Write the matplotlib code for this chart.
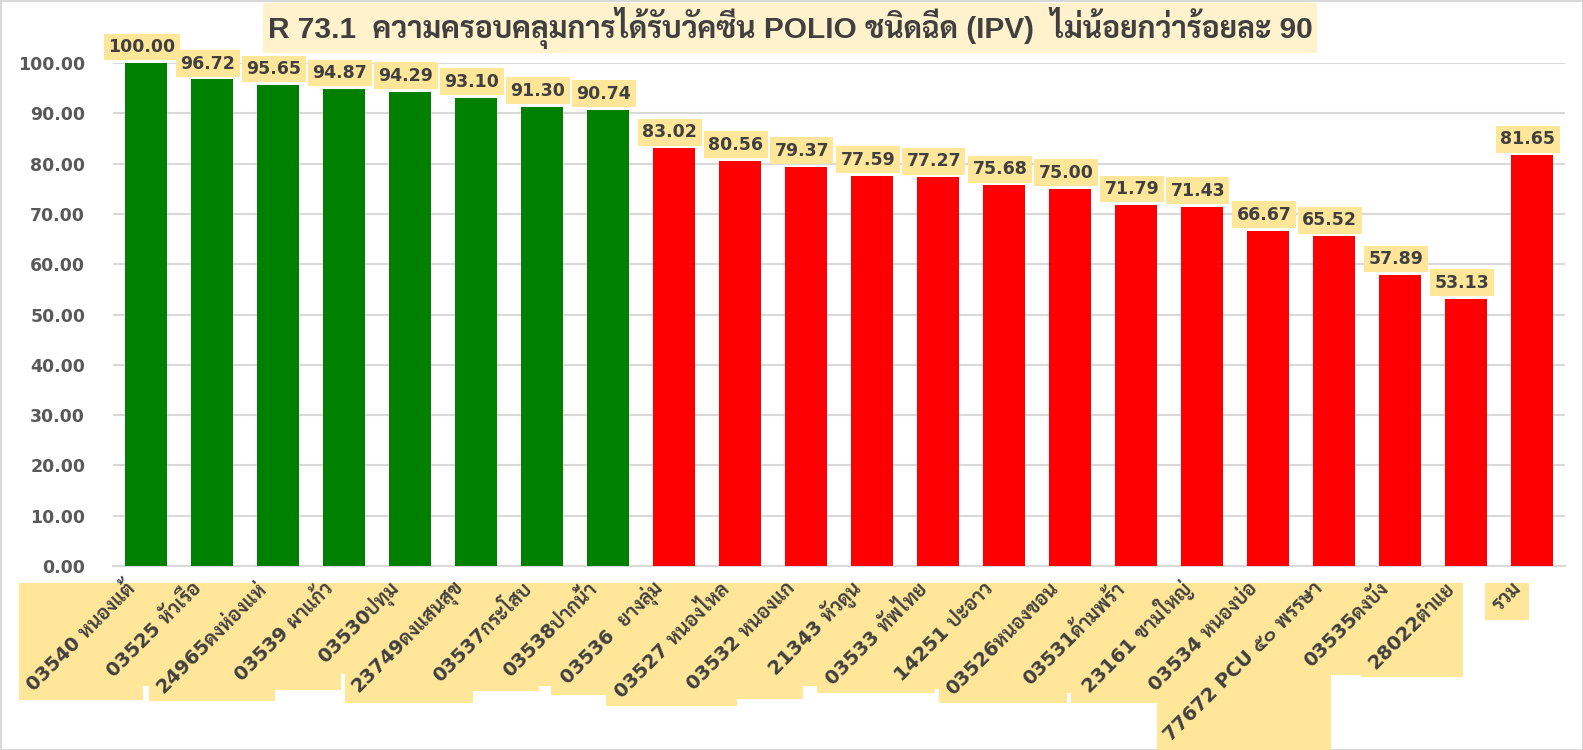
import matplotlib

matplotlib.use('Agg')  # no display
import matplotlib.pyplot as plt
import matplotlib.patches as mpatches
import matplotlib.transforms as mtransforms
from matplotlib import font_manager

# data
units = [
    "03540 หนองแต้", "03525 หัวเรือ", "24965ดงห่องแห่", "03539 ผาแก้ว",
    "03530ปทุม", "23749ดงแสนสุข", "03537กระโสบ", "03538ปากน้ำ",
    "03536  ยางลุ่ม", "03527 หนองไหล", "03532 หนองแก", "21343 หัวดูน",
    "03533 ทัพไทย", "14251 ปะอาว", "03526หนองขอน", "03531ด้ามพร้า",
    "23161 ขามใหญ่", "03534 หนองบ่อ", "77672 PCU ๕๐ พรรษา", "03535ดงบัง",
    "28022ต่ำแย", "รวม",
]
coverage = [100.00, 96.72, 95.65, 94.87, 94.29, 93.10, 91.30, 90.74,
            83.02, 80.56, 79.37, 77.59, 77.27, 75.68, 75.00, 71.79,
            71.43, 66.67, 65.52, 57.89, 53.13, 81.65]
target = 90
title = "R 73.1  ความครอบคลุมการได้รับวัคซีน POLIO ชนิดฉีด (IPV)  ไม่น้อยกว่าร้อยละ 90"


def pick_font(candidates):
    # first family that ships a real bold face
    bold = {f.name for f in font_manager.fontManager.ttflist
            if f.weight in (700, 'bold')}
    for name in candidates:
        if name in bold:
            return name
    return 'DejaVu Sans'


thai = pick_font(['Sarabun', 'Noto Sans Thai Looped', 'Noto Sans Thai',
                  'IBM Plex Sans Thai', 'Bai Jamjuree'])
plt.rcParams['font.family'] = ['DejaVu Sans', thai]

fig = plt.figure(figsize=(15.83, 7.5), dpi=100)
fig.patch.set_edgecolor('#D9D9D9')
fig.patch.set_linewidth(2)
ax = fig.add_axes([113 / 1583, 1 - 566 / 750, 1452 / 1583, 503 / 750])

colors = ['#008000' if v >= target else '#FF0000' for v in coverage]
x = range(len(units))
bars = ax.bar(x, coverage, width=0.63, color=colors, zorder=3)

for rect, v in zip(bars, coverage):
    ax.annotate(f"{v:.2f}", (rect.get_x() + rect.get_width() / 2, v),
                xytext=(-3, 5), textcoords='offset points', ha='center', va='bottom',
                fontsize=12.5, fontweight='bold', color='#404040', zorder=5,
                annotation_clip=False,
                bbox=dict(boxstyle='square,pad=0.25', fc='#FFE699', ec='none'))

ax.set_xlim(-0.5, len(units) - 0.5)
ax.set_ylim(0, 100)
ax.set_yticks(range(0, 101, 10))
ax.set_yticklabels([f"{t:.2f}" for t in range(0, 101, 10)])
ax.yaxis.grid(True, color='#D9D9D9', lw=1.5, zorder=0)
for s in ['top', 'right', 'left']:
    ax.spines[s].set_visible(False)
ax.spines['bottom'].set_color('#D9D9D9')
ax.spines['bottom'].set_linewidth(1.5)
ax.tick_params(axis='both', length=0)
ax.tick_params(axis='y', pad=20, labelsize=12.5, labelcolor='#595959')
for lbl in ax.get_yticklabels():
    lbl.set_fontweight('bold')

ax.set_xticks(list(x))
ax.set_xticklabels(units, rotation=45, ha='right', va='center', rotation_mode='anchor',
                   fontsize=14, fontweight='bold', color='#404040')
ax.tick_params(axis='x', pad=14)
shift = mtransforms.ScaledTranslation(-14 / 100, 0, fig.dpi_scale_trans)
for lbl in ax.get_xticklabels():
    lbl.set_transform(lbl.get_transform() + shift)

fig.text(790 / 1583, 1 - 28 / 750, title, ha='center', va='center',
         fontsize=21.5, fontweight='bold', color='#404040',
         family=['Liberation Sans Narrow', 'Liberation Sans', thai],
         bbox=dict(boxstyle='square,pad=0.15', fc='#FFF2CC', ec='none'))

# yellow boxes behind the category labels, axis-aligned like in excel
fig.canvas.draw()
renderer = fig.canvas.get_renderer()
top = 1 - 583 / 750
for lbl in ax.get_xticklabels():
    bb = lbl.get_window_extent(renderer).transformed(fig.transFigure.inverted())
    x0 = bb.x0 - 4 / 1583
    y0 = bb.y0 - 5 / 750
    fig.add_artist(mpatches.Rectangle((x0, y0), bb.width + 8 / 1583, top - y0,
                                      transform=fig.transFigure, fc='#FFE699',
                                      ec='none', zorder=-1))

fig.savefig('out.png', dpi=100)
